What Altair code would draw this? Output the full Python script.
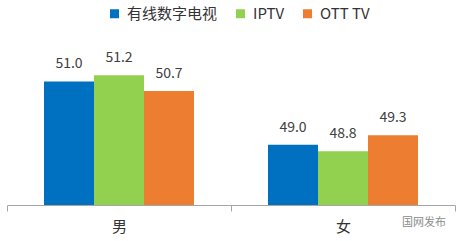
import altair as alt
import pandas as pd

categories = ["男", "女"]
series = ["有线数字电视", "IPTV", "OTT TV"]
cable_values = [51.0, 49.0]
iptv_values = [51.2, 48.8]
ott_values = [50.7, 49.3]
colors = ["#0070C0", "#92D050", "#ED7D31"]

rows = []
for i, c in enumerate(categories):
    for s, vals in zip(series, [cable_values, iptv_values, ott_values]):
        rows.append({"gender": c, "series": s, "value": vals[i]})
df = pd.DataFrame(rows)

FONT = "Noto Sans CJK SC"
YMIN, YMAX = 47.1, 52.53

x = alt.X("gender:N", sort=categories, title=None,
          scale=alt.Scale(paddingInner=0, paddingOuter=0),
          axis=alt.Axis(labelAngle=0, labelFontSize=15, labelColor="#333333",
                        labelFont=FONT, labelPadding=8, tickBand="extent",
                        tickExtra=False,
                        tickSize=6, tickColor="#A6A6A6", domainColor="#A6A6A6",
                        domainWidth=1, tickWidth=1, grid=False))
xo = alt.XOffset("series:N", sort=series,
                 scale=alt.Scale(paddingInner=0, paddingOuter=0.74))
y = alt.Y("value:Q", scale=alt.Scale(domain=[YMIN, YMAX], zero=False, nice=False),
          axis=None)

bars = alt.Chart(df).mark_bar().encode(
    x=x, xOffset=xo, y=y, y2=alt.datum(YMIN),
    color=alt.Color("series:N", sort=series, title=None,
                    scale=alt.Scale(domain=series, range=colors),
                    legend=alt.Legend(orient="none", direction="horizontal",
                                      legendX=100, legendY=-27, padding=0,
                                      symbolType="square", symbolSize=81,
                                      symbolStrokeWidth=0, labelFontSize=15,
                                      labelFont=FONT, labelColor="#333333",
                                      labelOffset=5, columnPadding=15)),
)

labels = alt.Chart(df).mark_text(baseline="bottom", dy=-10, fontSize=14,
                                 font=FONT, color="#404040").encode(
    x=x, xOffset=xo, y=y, text=alt.Text("value:Q", format=".1f"))

watermark = alt.Chart(pd.DataFrame({"t": ["国网发布"]})).mark_text(
    align="left", baseline="middle", fontSize=11, font=FONT, color="#8C8C8C"
).encode(x=alt.value(395), y=alt.value(190), text="t:N")

chart = alt.layer(bars, labels, watermark).properties(
    width=448, height=172,
    padding={"left": 7, "top": 33, "right": 5, "bottom": 36},
    autosize="none",
).configure(background="white").configure_view(
    stroke="transparent", strokeWidth=0
)

chart.save("out.html", embed_options={"renderer": "svg", "actions": False})
